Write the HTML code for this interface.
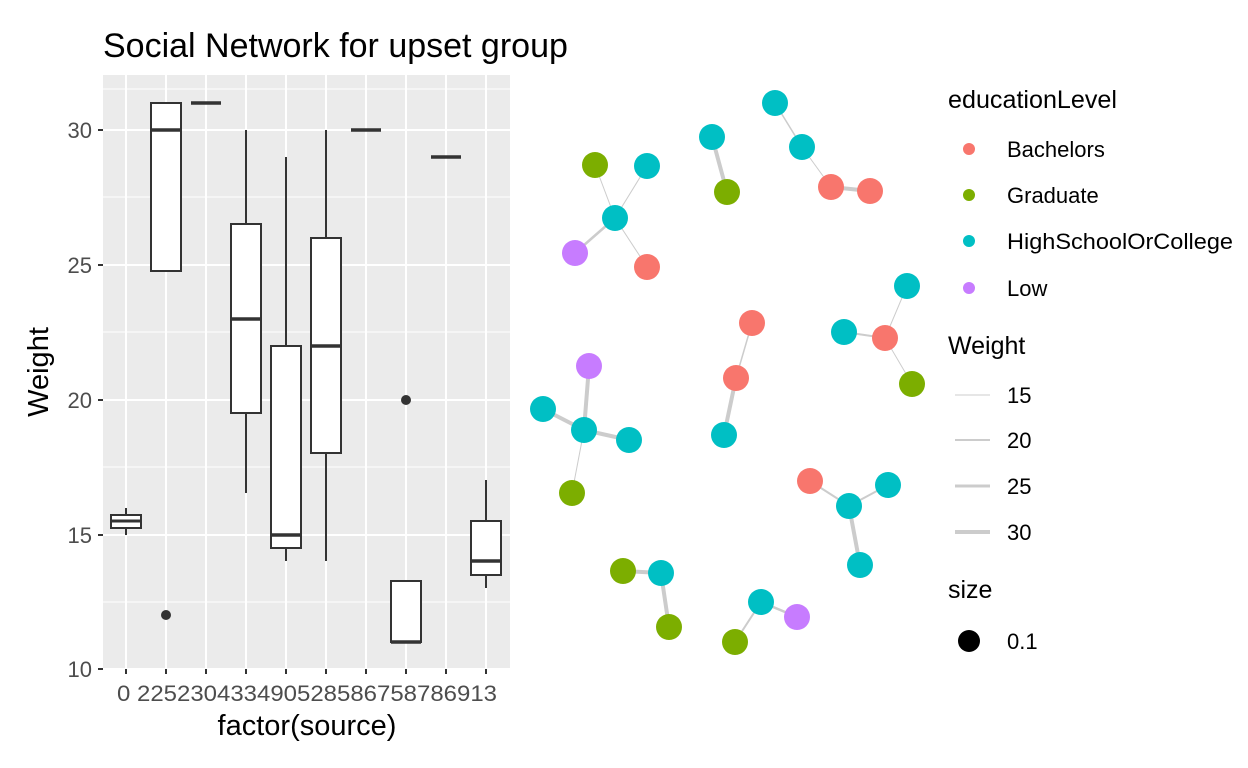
<!DOCTYPE html>
<html><head><meta charset="utf-8"><style>body{margin:0;background:#fff}svg{display:block}text{font-family:"Liberation Sans",Arial,sans-serif}</style></head><body>
<svg width="1248" height="768" viewBox="0 0 1248 768" xmlns="http://www.w3.org/2000/svg">
<rect width="1248" height="768" fill="#fff"/>
<text x="103" y="57" font-size="34" fill="#000">Social Network for upset group</text>
<rect x="103" y="75" width="407" height="594" fill="#ebebeb"/>
<g stroke="#fff" stroke-width="1">
<line x1="103" x2="510" y1="602" y2="602"/><line x1="103" x2="510" y1="467" y2="467"/><line x1="103" x2="510" y1="332" y2="332"/><line x1="103" x2="510" y1="197" y2="197"/><line x1="103" x2="510" y1="89" y2="89"/>
</g>
<g stroke="#fff" stroke-width="2">
<line x1="103" x2="510" y1="669" y2="669"/><line x1="103" x2="510" y1="535" y2="535"/><line x1="103" x2="510" y1="400" y2="400"/><line x1="103" x2="510" y1="265" y2="265"/><line x1="103" x2="510" y1="130" y2="130"/>
<line x1="126" x2="126" y1="75" y2="669"/><line x1="166" x2="166" y1="75" y2="669"/><line x1="206" x2="206" y1="75" y2="669"/><line x1="246" x2="246" y1="75" y2="669"/><line x1="286" x2="286" y1="75" y2="669"/><line x1="326" x2="326" y1="75" y2="669"/><line x1="366" x2="366" y1="75" y2="669"/><line x1="406" x2="406" y1="75" y2="669"/><line x1="446" x2="446" y1="75" y2="669"/><line x1="486" x2="486" y1="75" y2="669"/>
</g>
<g stroke="#333" stroke-width="2" fill="#fff">
<line x1="126" x2="126" y1="508" y2="535"/><rect x="111" y="515" width="30" height="13"/><line x1="111" x2="141" y1="521" y2="521" stroke-width="3"/>
<line x1="166" x2="166" y1="103" y2="271"/><rect x="151" y="103" width="30" height="168"/><line x1="151" x2="181" y1="130" y2="130" stroke-width="3.5"/>
<line x1="191" x2="221" y1="103" y2="103" stroke-width="3.5"/>
<line x1="246" x2="246" y1="130" y2="493"/><rect x="231" y="224" width="30" height="189"/><line x1="231" x2="261" y1="319" y2="319" stroke-width="3.5"/>
<line x1="286" x2="286" y1="157" y2="561"/><rect x="271" y="346" width="30" height="202"/><line x1="271" x2="301" y1="535" y2="535" stroke-width="3.5"/>
<line x1="326" x2="326" y1="130" y2="561"/><rect x="311" y="238" width="30" height="215"/><line x1="311" x2="341" y1="346" y2="346" stroke-width="3.5"/>
<line x1="351" x2="381" y1="130" y2="130" stroke-width="3.5"/>
<rect x="391" y="581" width="30" height="61"/><line x1="391" x2="421" y1="642" y2="642" stroke-width="3.5"/>
<line x1="431" x2="461" y1="157" y2="157" stroke-width="3.5"/>
<line x1="486" x2="486" y1="480" y2="588"/><rect x="471" y="521" width="30" height="54"/><line x1="471" x2="501" y1="561" y2="561" stroke-width="3.5"/>
</g>
<circle cx="166" cy="615" r="5" fill="#333"/><circle cx="406" cy="400" r="5" fill="#333"/>
<g stroke="#333" stroke-width="2">
<line x1="98" x2="103" y1="669" y2="669"/><line x1="98" x2="103" y1="535" y2="535"/><line x1="98" x2="103" y1="400" y2="400"/><line x1="98" x2="103" y1="265" y2="265"/><line x1="98" x2="103" y1="130" y2="130"/>
<line x1="126" x2="126" y1="669" y2="674"/><line x1="166" x2="166" y1="669" y2="674"/><line x1="206" x2="206" y1="669" y2="674"/><line x1="246" x2="246" y1="669" y2="674"/><line x1="286" x2="286" y1="669" y2="674"/><line x1="326" x2="326" y1="669" y2="674"/><line x1="366" x2="366" y1="669" y2="674"/><line x1="406" x2="406" y1="669" y2="674"/><line x1="446" x2="446" y1="669" y2="674"/><line x1="486" x2="486" y1="669" y2="674"/>
</g>
<g font-size="22" fill="#4d4d4d" text-anchor="end">
<text x="92" y="677">10</text><text x="92" y="543">15</text><text x="92" y="408">20</text><text x="92" y="273">25</text><text x="92" y="138">30</text>
</g>
<text x="307" y="701" font-size="22" fill="#4d4d4d" text-anchor="middle" textLength="380" lengthAdjust="spacingAndGlyphs">0 225230433490528586758786913</text>
<text x="307" y="735" font-size="29" text-anchor="middle">factor(source)</text>
<text transform="translate(48,372) rotate(-90)" font-size="29" text-anchor="middle">Weight</text>
<g stroke="#ccc" stroke-linecap="round">
<line x1="615" y1="218" x2="595" y2="165" stroke-width="1"/><line x1="615" y1="218" x2="647" y2="166" stroke-width="1"/><line x1="615" y1="218" x2="575" y2="253" stroke-width="2.5"/><line x1="615" y1="218" x2="647" y2="267" stroke-width="1"/>
<line x1="712" y1="137" x2="727" y2="192" stroke-width="4"/>
<line x1="775" y1="103" x2="802" y2="147" stroke-width="1.5"/><line x1="802" y1="147" x2="831" y2="187" stroke-width="1"/><line x1="831" y1="187" x2="870" y2="191" stroke-width="4"/>
<line x1="752" y1="323" x2="736" y2="378" stroke-width="1.5"/><line x1="736" y1="378" x2="724" y2="435" stroke-width="4"/>
<line x1="844" y1="332" x2="885" y2="338" stroke-width="2"/><line x1="885" y1="338" x2="907" y2="286" stroke-width="1"/><line x1="885" y1="338" x2="912" y2="384" stroke-width="1"/>
<line x1="584" y1="430" x2="589" y2="366" stroke-width="4"/><line x1="584" y1="430" x2="543" y2="409" stroke-width="4"/><line x1="584" y1="430" x2="629" y2="440" stroke-width="4"/><line x1="584" y1="430" x2="572" y2="493" stroke-width="1"/>
<line x1="849" y1="506" x2="810" y2="481" stroke-width="2"/><line x1="849" y1="506" x2="888" y2="485" stroke-width="2"/><line x1="849" y1="506" x2="860" y2="565" stroke-width="4"/>
<line x1="623" y1="571" x2="661" y2="573" stroke-width="4"/><line x1="661" y1="573" x2="669" y2="627" stroke-width="4"/>
<line x1="735" y1="642" x2="761" y2="602" stroke-width="2"/><line x1="761" y1="602" x2="797" y2="617" stroke-width="2.5"/>
</g>
<g>
<circle cx="615" cy="218" r="13" fill="#00BFC4"/><circle cx="595" cy="165" r="13" fill="#7CAE00"/><circle cx="647" cy="166" r="13" fill="#00BFC4"/><circle cx="575" cy="253" r="13" fill="#C77CFF"/><circle cx="647" cy="267" r="13" fill="#F8766D"/>
<circle cx="712" cy="137" r="13" fill="#00BFC4"/><circle cx="727" cy="192" r="13" fill="#7CAE00"/>
<circle cx="775" cy="103" r="13" fill="#00BFC4"/><circle cx="802" cy="147" r="13" fill="#00BFC4"/><circle cx="831" cy="187" r="13" fill="#F8766D"/><circle cx="870" cy="191" r="13" fill="#F8766D"/>
<circle cx="752" cy="323" r="13" fill="#F8766D"/><circle cx="736" cy="378" r="13" fill="#F8766D"/><circle cx="724" cy="435" r="13" fill="#00BFC4"/>
<circle cx="844" cy="332" r="13" fill="#00BFC4"/><circle cx="885" cy="338" r="13" fill="#F8766D"/><circle cx="907" cy="286" r="13" fill="#00BFC4"/><circle cx="912" cy="384" r="13" fill="#7CAE00"/>
<circle cx="589" cy="366" r="13" fill="#C77CFF"/><circle cx="584" cy="430" r="13" fill="#00BFC4"/><circle cx="543" cy="409" r="13" fill="#00BFC4"/><circle cx="629" cy="440" r="13" fill="#00BFC4"/><circle cx="572" cy="493" r="13" fill="#7CAE00"/>
<circle cx="810" cy="481" r="13" fill="#F8766D"/><circle cx="849" cy="506" r="13" fill="#00BFC4"/><circle cx="888" cy="485" r="13" fill="#00BFC4"/><circle cx="860" cy="565" r="13" fill="#00BFC4"/>
<circle cx="623" cy="571" r="13" fill="#7CAE00"/><circle cx="661" cy="573" r="13" fill="#00BFC4"/><circle cx="669" cy="627" r="13" fill="#7CAE00"/>
<circle cx="735" cy="642" r="13" fill="#7CAE00"/><circle cx="761" cy="602" r="13" fill="#00BFC4"/><circle cx="797" cy="617" r="13" fill="#C77CFF"/>
</g>
<text x="948" y="108" font-size="25" textLength="169" lengthAdjust="spacingAndGlyphs">educationLevel</text>
<circle cx="969" cy="149" r="6" fill="#F8766D"/><circle cx="969" cy="195" r="6" fill="#7CAE00"/><circle cx="969" cy="241" r="6" fill="#00BFC4"/><circle cx="969" cy="288" r="6" fill="#C77CFF"/>
<g font-size="22"><text x="1007" y="157">Bachelors</text><text x="1007" y="203">Graduate</text><text x="1007" y="249" textLength="226" lengthAdjust="spacingAndGlyphs">HighSchoolOrCollege</text><text x="1007" y="296">Low</text></g>
<text x="948" y="354" font-size="25">Weight</text>
<g stroke="#ccc"><line x1="955" x2="990" y1="395" y2="395" stroke-width="1"/><line x1="955" x2="990" y1="440" y2="440" stroke-width="2"/><line x1="955" x2="990" y1="486" y2="486" stroke-width="3"/><line x1="955" x2="990" y1="532" y2="532" stroke-width="4"/></g>
<g font-size="22"><text x="1007" y="403">15</text><text x="1007" y="448">20</text><text x="1007" y="494">25</text><text x="1007" y="540">30</text></g>
<text x="948" y="598" font-size="25">size</text>
<circle cx="969" cy="641" r="11" fill="#000"/>
<text x="1007" y="649" font-size="22">0.1</text>
</svg>
</body></html>
